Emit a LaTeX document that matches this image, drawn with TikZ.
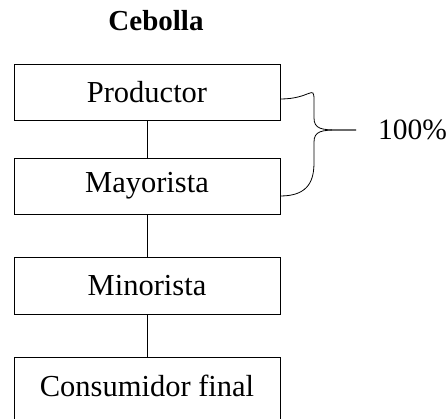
\documentclass[tikz,border=0pt]{standalone}
\usepackage{fontspec}
\setmainfont{Liberation Serif}
\begin{document}
\begin{tikzpicture}[x=1pt,y=-1pt,
  box/.style={draw=black,line width=0.9pt,minimum width=266pt,inner sep=0pt,
    font=\fontsize{30.5}{36}\selectfont},
  link/.style={draw=black,line width=0.9pt},
  brace/.style={draw=black,line width=0.8pt},
  lbl/.style={inner sep=0pt,font=\fontsize{29.5}{34}\selectfont}]
\useasboundingbox (0,0) rectangle (446,419);
\node[lbl,font=\fontsize{29}{34}\selectfont\bfseries] (title) at (156,21) {Cebolla};
\node[box,minimum height=56pt] (p) at (147,92) {Productor};
\node[box,minimum height=56pt] (m) at (147,186) {Mayorista};
\node[box,minimum height=57pt] (n) at (147,285.5) {Minorista};
\node[box,minimum height=70pt] (c) at (147,392) {\raisebox{6pt}[\height][\depth]{Consumidor final}};
\draw[link] (p) -- (m);
\draw[link] (m) -- (n);
\draw[link] (n) -- (c);
\node[lbl,anchor=west] (pct) at (378,130) {100\%};
\coordinate (bt) at ([yshift=-7pt]p.east);
\coordinate (bb) at ([yshift=-10pt]m.east);
\coordinate (tip) at (356,130);
\draw[brace] (bt) .. controls ++(30,0) and (314,84) .. (314,100)
  -- (314,118) .. controls (314,129) and (322,130) .. (338,130) -- (tip);
\draw[brace] (tip) -- (338,130) .. controls (322,130) and (314,131) .. (314,142)
  -- (314,162) .. controls (314,178) and ([xshift=30pt]bb) .. (bb);
\end{tikzpicture}
\end{document}
